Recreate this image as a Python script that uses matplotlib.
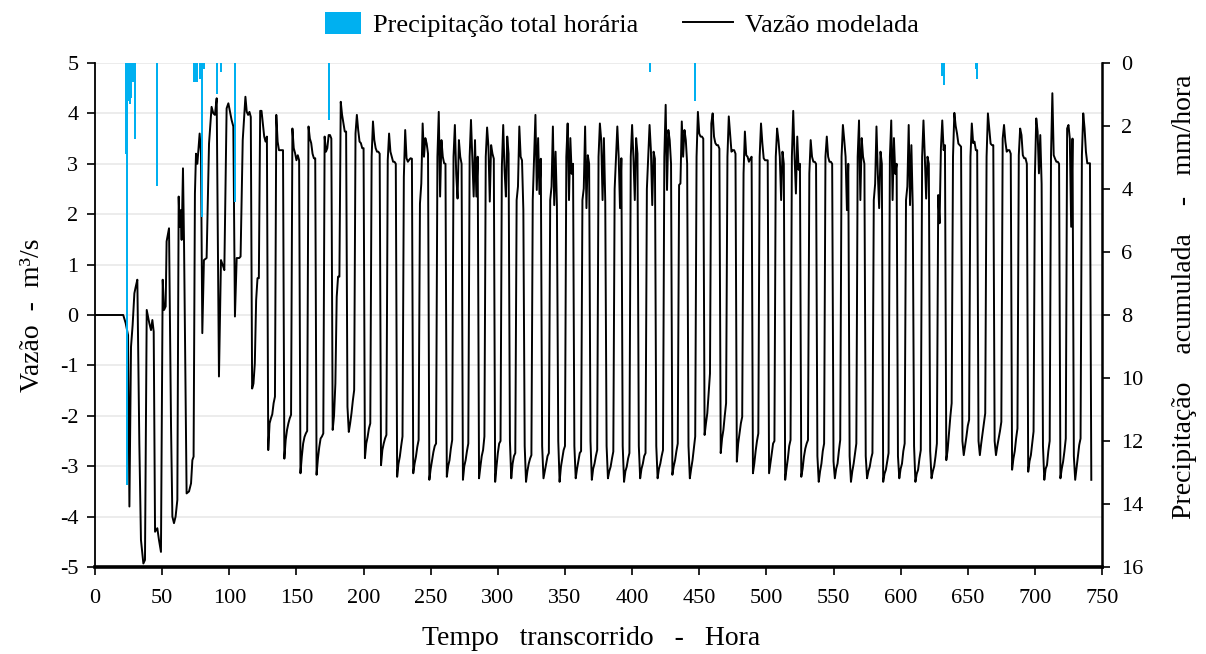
import numpy as np
import matplotlib.pyplot as plt
from matplotlib.patches import Patch, Rectangle
from matplotlib.lines import Line2D
from matplotlib.legend_handler import HandlerPatch

plt.rcParams['font.family'] = ['Liberation Serif', 'DejaVu Serif']
plt.rcParams['axes.unicode_minus'] = False

# --- vazão: trecho inicial (tempos irregulares, h) ---
t_inicio = [0, 21, 22.8, 24.6, 25.6, 26.8, 28, 29.3, 30.3, 31.5, 33, 34.2, 36, 37.2, 38.5,
            40.4, 41.7, 42.7, 43.7, 44.7, 46.4, 47.6, 49.1, 50.4, 51.4, 52.6, 53.3,
            55.1, 56.6, 57.6, 58.8, 60, 61.3, 62.3, 63, 63.8, 64.5, 65.5, 66.3, 68.2,
            70, 71.5, 72.5, 73.4, 74.4, 75.2, 76.2, 77.9, 78.9, 79.9, 81.1, 83.1,
            84.9, 86.8, 88.1, 89.3, 90.6, 92.3, 93.8, 95.5, 96.3, 98, 99.3, 100.5,
            101.7, 103, 104.2, 105.5, 107.4, 108.4, 110]
q_inicio = [0, 0, -0.16, -0.4, -3.8, -0.63, -0.2, 0.43, 0.56, 0.7, -2.55, -4.46, -4.93, -4.86,
            0.1, -0.16, -0.3, -0.1, -0.33, -4.3, -4.23, -4.46, -4.7, 0.7, 0.1, 0.17,
            1.46, 1.72, -2.2, -4.0, -4.13, -4.0, -3.67, 2.35, 1.75, 2.08, 1.49, 2.91,
            1.39, -3.54, -3.5, -3.34, -2.88, -2.81, 2.41, 3.2, 3.0, 3.6, 3.21, -0.36,
            1.09, 1.13, 3.4, 4.13, 4.0, 3.97, 4.3, -1.22, 1.09, 0.96, 0.89, 4.1, 4.2,
            4.04, 3.87, 3.74, -0.03, 1.13, 1.13, 1.16, 3.47]

# --- vazão: ciclos de maré, valores horários a partir de t = 112 h ---
t_ciclos = 112
ciclos = [
    [4.33, 4.03, 3.97, 4.03, 3.93, -1.46, -1.36, -0.96, 0.30, 0.73, 0.73],
    [4.05, 4.05, 3.80, 3.54, 3.44, 3.54, -2.68, -2.15, -2.05, -1.97, -1.75, -1.62],
    [3.97, 3.44, 3.27, 3.27, 3.27, 3.27, -2.85, -2.48, -2.28, -2.15, -2.05, -1.98],
    [3.70, 3.31, 3.21, 3.07, 3.17, 3.07, -3.14, -2.81, -2.55, -2.42, -2.35, -2.30],
    [3.74, 3.50, 3.41, 3.20, 3.11, 3.11, -3.17, -2.85, -2.62, -2.45, -2.41, -2.35],
    [3.54, 3.24, 3.31, 3.57, 3.57, 3.50, -2.28, -2.00, -1.36, 0.36, 0.76, 0.76],
    [4.23, 3.97, 3.80, 3.64, 3.64, -1.82, -2.32, -2.15, -1.95, -1.70, -1.49, 3.60],
    [3.97, 3.67, 3.44, 3.41, 3.31, 3.31, -2.84, -2.55, -2.42, -2.25, -2.15, 3.14],
    [3.84, 3.47, 3.31, 3.24, 3.24, 3.20, -2.98, -2.68, -2.55, -2.45, -2.38, 3.07],
    [3.60, 3.24, 3.14, 3.04, 3.04, 3.00, -3.21, -2.95, -2.81, -2.60, -2.41, 2.74],
    [3.67, 3.11, 3.04, 3.08, 3.11, 3.10, -3.14, -2.95, -2.81, -2.62, -2.48, 2.21, 2.61],
    [3.80, 3.14, 3.51, 3.40, 3.20, -3.27, -3.05, -2.88, -2.72, -2.60, -2.55, 3.14],
    [4.03, 2.35, 3.47, 3.14, 3.01, 3.00, -3.21, -3.00, -2.88, -2.65, -2.48, 3.14],
    [3.77, 2.80, 2.31, 3.47, 3.14, 3.00, -3.27, -3.00, -2.88, -2.70, -2.55, 3.14],
    [3.87, 3.14, 2.35, 3.47, 2.35, 3.14, -3.24, -3.01, -2.80, -2.68, -2.41, 3.14],
    [3.72, 3.34, 2.25, 3.37, 3.20, 3.10, -3.31, -3.01, -2.74, -2.55, -2.50, 2.94],
    [3.77, 2.88, 2.35, 3.54, 3.20, -2.50, -3.24, -2.95, -2.80, -2.74, 2.28, 2.55],
    [3.74, 3.14, 3.07, 2.08, -2.60, -3.31, -3.10, -2.95, -2.85, -2.78, 2.28, 3.14],
    [3.97, 2.48, 3.51, 2.40, 3.10, -2.60, -3.24, -3.10, -2.95, -2.80, -2.74, 2.28, 2.55],
    [3.74, 2.18, 3.24, 2.18, -2.50, -3.31, -3.01, -2.85, -2.68, -2.60, 3.14],
    [3.80, 2.28, 3.51, 2.80, 3.00, -2.60, -3.24, -3.05, -2.90, -2.74, -2.70, 2.28, 2.51],
    [3.74, 2.12, 3.17, 3.00, -2.50, -3.27, -3.05, -2.95, -2.80, -2.68, 3.14],
    [3.80, 3.47, 2.28, 3.51, 2.25, -2.60, -3.24, -3.10, -3.01, -2.85, -2.71, 2.50, 3.14],
    [3.74, 3.14, 2.12, 3.11, -2.60, -3.31, -3.10, -3.01, -2.85, -2.74, 3.14],
    [3.77, 3.11, 2.28, 3.51, 3.20, -2.60, -3.24, -3.05, -2.95, -2.80, -2.74, 2.50, 3.14],
    [3.77, 3.27, 2.18, 3.24, 3.10, -2.60, -3.24, -3.05, -2.95, -2.80, -2.68, 3.14],
    [4.17, 2.48, 3.67, 3.47, 3.00, -3.17, -3.00, -2.88, -2.70, -2.55, 2.58, 2.61],
    [3.84, 3.14, 3.67, 3.47, 3.00, -2.60, -3.24, -3.05, -2.88, -2.65, -2.41, 3.14],
    [4.03, 3.60, 3.54, 3.54, 3.50, -2.38, -2.15, -1.95, -1.55, -1.16, 3.80],
    [4.00, 3.54, 3.41, 3.37, 3.37, 3.30, -2.74, -2.45, -2.28, -2.00, -1.75, 3.14],
    [3.94, 3.60, 3.24, 3.27, 3.27, 3.20, -2.91, -2.55, -2.35, -2.15, -2.02, 2.81],
    [3.64, 3.17, 3.14, 3.04, 3.10, 3.14, -3.14, -2.95, -2.70, -2.50, -2.35, 3.14],
    [3.80, 3.41, 3.11, 3.07, 3.07, 3.07, -3.14, -2.95, -2.75, -2.55, -2.50, 3.14],
    [3.70, 3.47, 3.14, 2.28, 3.24, 3.00, -3.27, -3.05, -2.85, -2.60, -2.48, 3.14],
    [4.05, 3.14, 2.41, 3.54, 2.88, 3.00, -3.21, -3.05, -2.81, -2.65, -2.55, -2.48, 2.81],
    [3.47, 3.14, 3.04, 3.04, 3.00, -2.80, -3.31, -3.10, -2.95, -2.70, -2.55, 3.14],
    [3.54, 3.14, 3.04, 3.04, 3.00, -2.90, -3.24, -3.05, -2.95, -2.70, -2.48, 3.14],
    [3.77, 3.47, 3.14, 2.08, 3.00, -2.80, -3.31, -3.10, -2.95, -2.75, -2.55, 3.14],
    [3.86, 2.28, 3.51, 3.14, 3.00, -2.80, -3.24, -3.10, -3.01, -2.85, -2.74, 2.28, 2.60],
    [3.74, 2.80, 2.12, 3.24, 3.00, -3.31, -3.15, -3.07, -2.90, -2.74, 3.14],
    [3.86, 2.28, 3.51, 2.80, 3.00, -2.80, -3.24, -3.05, -2.95, -2.70, -2.55, 2.28, 2.55],
    [3.77, 2.18, 3.37, 2.18, -2.60, -3.31, -3.15, -3.07, -2.85, -2.68, 3.14],
    [3.86, 3.14, 2.31, 3.14, 3.00, -2.70, -3.24, -3.10, -3.00, -2.80, -2.55, 2.38, 1.82, 3.31],
    [3.86, 3.27, 3.37, -2.88, -2.68, -2.35, -2.02, -1.75, 3.14],
    [4.01, 3.75, 3.60, 3.40, 3.37, 3.34, -2.50, -2.78, -2.60, -2.41, -2.20, -2.08, 3.14],
    [3.80, 3.41, 3.44, 3.27, 3.27, -2.50, -2.78, -2.55, -2.35, -2.15, -1.95, 3.14],
    [4.00, 3.70, 3.40, 3.37, 3.37, -2.50, -2.78, -2.60, -2.45, -2.30, -2.12, 3.50],
    [3.77, 3.44, 3.24, 3.27, 3.27, 3.20, -3.07, -2.85, -2.70, -2.45, -2.25, 3.17],
    [3.70, 3.57, 3.17, 3.11, 3.11, 3.00, -3.11, -2.90, -2.78, -2.55, -2.31, 2.78],
    [3.90, 3.64, 2.81, 3.57, 2.60, -2.60, -3.27, -3.05, -2.98, -2.70, -2.50, 3.17],
    [4.40, 3.17, 3.10, 3.04, 3.04, 3.00, -3.24, -3.05, -2.91, -2.70, -2.45, 3.70],
    [3.77, 3.50, 1.75, 3.50, -2.80, -3.27, -3.04, -2.80, -2.58, -2.45, 3.17],
    [4.00, 3.70, 3.24, 3.01, 3.01, 3.01, -3.27],
]

# --- precipitação total horária (mm) ---
t_chuva = [23, 24, 25, 26, 27, 28, 29, 30, 46, 74, 75, 76, 78, 80, 81, 91, 94, 104,
           174, 413, 447, 631, 632, 656, 657]
p_chuva = [2.9, 13.4, 1.2, 1.3, 1.1, 0.6, 0.6, 2.4, 3.9, 0.6, 0.6, 0.6, 0.5, 4.9, 0.2,
           1.0, 0.3, 4.4, 1.8, 0.3, 1.2, 0.4, 0.7, 0.2, 0.5]

q_ciclos = np.concatenate([np.array(c) for c in ciclos])
t_vazao = np.concatenate([t_inicio, t_ciclos + np.arange(len(q_ciclos))])
q_vazao = np.concatenate([q_inicio, q_ciclos])

azul = '#00B0F0'
fig = plt.figure(figsize=(12.06, 6.54), dpi=100)
ax = fig.add_axes([0.0788, 0.133, 0.835, 0.7707])
ax2 = ax.twinx()

ax.plot(t_vazao, q_vazao, color='black', lw=1.4)
ax.set_xlim(0, 750)
ax.set_ylim(-5, 5)
ax.set_xticks(range(0, 751, 50))
ax.set_yticks(range(-5, 6))
ax.grid(axis='y', color='#EBEBEB', lw=1.3)
ax.set_axisbelow(True)

# barras penduradas do topo (eixo invertido)
ax2.bar(t_chuva, p_chuva, width=1.5, color=azul, align='center', linewidth=0)
ax2.set_ylim(16, 0)
ax2.set_yticks(range(0, 17, 2))

for a in (ax, ax2):
    a.spines['top'].set_visible(False)
    a.tick_params(labelsize=16, width=1.2, length=6, color='black', direction='out')
ax.spines['bottom'].set_linewidth(2.6)
ax.spines['left'].set_linewidth(1.3)
ax2.spines['right'].set_linewidth(1.8)
ax2.spines['left'].set_visible(False)
ax2.spines['bottom'].set_visible(False)
ax.tick_params(axis='x', pad=10)
ax.tick_params(axis='y', pad=6)
ax2.tick_params(axis='y', pad=8)

ax.set_xlabel('Tempo   transcorrido   -   Hora', fontsize=20, labelpad=13)
ax.xaxis.label.set_x(0.4926)
ax.set_ylabel('Vazão  -  m³/s', fontsize=20, labelpad=11)
ax2.set_ylabel('Precipitação    acumulada    -   mm/hora', fontsize=20, labelpad=20)
ax2.yaxis.label.set_y(0.536)


def caixa_chuva(legend, orig_handle, xdescent, ydescent, width, height, fontsize):
    # retângulo mais estreito que a linha da legenda
    w = width * 0.72
    return Rectangle((width - w - xdescent, -ydescent), w, height)


handles = [Patch(facecolor=azul, edgecolor='none', label='Precipitação total horária'),
           Line2D([0], [0], color='black', lw=1.4, label='Vazão modelada')]
fig.legend(handles=handles, loc='upper center', bbox_to_anchor=(0.51, 1.018), ncol=2,
           frameon=False, fontsize=19, handlelength=1.9, handleheight=0.9,
           columnspacing=1.7, handletextpad=0.45,
           handler_map={Patch: HandlerPatch(patch_func=caixa_chuva)})

fig.savefig('out.png', dpi=100)
